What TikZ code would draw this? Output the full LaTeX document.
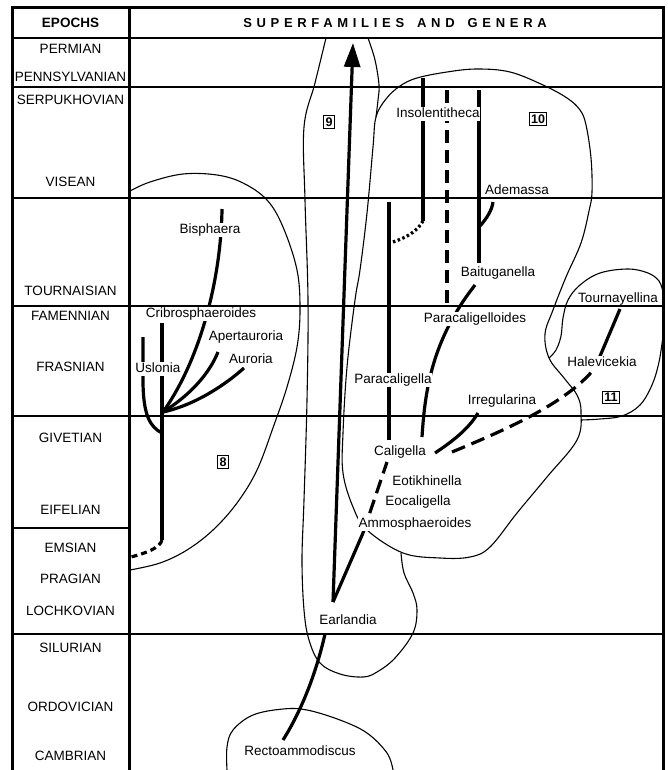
\documentclass[tikz,border=0pt]{standalone}
\usepackage{fontspec}
\setmainfont{Liberation Sans}
\usetikzlibrary{arrows.meta}
\newcommand{\gfont}{\fontsize{13.5}{15}\selectfont}
\newcommand{\efont}{\fontsize{13.5}{15}\selectfont}

\begin{document}
\begin{tikzpicture}[>=Stealth,x=1pt,y=-1pt,
  rule/.style={line width=1.3pt},
  heavy/.style={line width=3pt},
  outline/.style={line width=1.1pt,line join=round},
  branch/.style={line width=3.2pt},
  dsh/.style={branch,dash pattern=on 14pt off 7pt},
  epoch/.style={font=\efont,inner sep=0pt},
  genus/.style={font=\gfont,fill=white,inner sep=0.6pt,text height=9.7pt,text depth=2.8pt},
  numbox/.style={draw,line width=0.8pt,font=\bfseries\fontsize{12.5}{12.5}\selectfont,inner sep=1.8pt}]
\useasboundingbox (0,0) rectangle (667,770);

% outlines of the groups
\draw[outline] plot[smooth,tension=0.6] coordinates {(130,191) (150,182) (183,174) (217,175) (243,183) (267,200) (283,227) (297,270) (300,310) (297,347) (287,387) (274,425) (257,470) (237,503) (213,530) (187,550) (160,563) (130,570)};
\draw[outline] plot[smooth,tension=0.6] coordinates {(326,38) (315,83) (304,127) (305,200) (308,300) (307,400) (304,500) (302,560) (304,610) (309,640) (320,663) (340,674) (363,677) (377,672) (395,658) (413,633) (417,610) (413,593) (404,573) (401,553)};
\draw[outline] plot[smooth,tension=0.6] coordinates {(368,38) (375,60) (379,85) (378,100) (376,117)};
\draw[outline] plot[smooth cycle,tension=0.6] coordinates {(376,117) (386,99) (400,86) (417,78) (447,72) (477,69) (510,72) (543,85) (567,98) (580,110) (586,125) (591,158) (592,192) (589,211) (581,243) (566,277) (553,310) (545,334) (549,358) (564,378) (577,395) (581,412) (577,440) (547,477) (517,513) (490,547) (470,557) (440,558) (403,553) (367,530) (353,507) (343,473) (343,433) (347,367) (355,300) (360,270) (367,213) (373,147)};
\draw[outline] plot[smooth,tension=0.6] coordinates {(549,358) (556,350) (561,336) (563,318) (568,300) (580,285) (600,273) (628,269) (648,273) (659,281) (663,292)};
\draw[outline] plot[smooth,tension=0.6] coordinates {(663,336) (659,362) (652,385) (640,405) (622,416) (600,419) (581,420)};
\draw[outline] plot[smooth,tension=0.6] coordinates {(227,770) (227,747) (233,730) (253,715) (283,709) (307,710) (340,720) (367,733) (387,753) (393,770)};

% time lines
\draw[rule] (12,38) -- (663,38);
\foreach \y in {87,198,306,416,634}
  \draw[rule] (12,\y) -- (663,\y);
\draw[rule] (12,528) -- (129,528);

% end points of the branches
\coordinate (j8) at (163,412);
\coordinate (cribTop) at (162,323);
\coordinate (cribBot) at (162,540);
\coordinate (cribEnd) at (131,557);
\coordinate (uslTop) at (143,337);
\coordinate (uslBend) at (143,380);
\coordinate (uslJoin) at (162,433);
\coordinate (bisTop) at (222,209);
\coordinate (aptEnd) at (218,352);
\coordinate (aurEnd) at (244,368);
\coordinate (earlTop) at (333,602);
\coordinate (tip) at (353,43);
\coordinate (ammBot) at (363,533);
\coordinate (calBot) at (387,462);
\coordinate (earlBot) at (325,634);
\coordinate (rectTop) at (283,740);
\coordinate (pcalTop) at (389,202);
\coordinate (pcalBot) at (389,440);
\coordinate (calN) at (422,437);
\coordinate (pclgTop) at (475,285);
\coordinate (calE) at (435,453);
\coordinate (irrEnd) at (478,413);
\coordinate (calR) at (452,452);
\coordinate (halS) at (595,368);
\coordinate (tourS) at (620,309);
\coordinate (insTop) at (423,78);
\coordinate (insBot) at (423,221);
\coordinate (insEnd) at (393,242);
\coordinate (dTop) at (447,90);
\coordinate (dBot) at (447,308);
\coordinate (baiTop) at (479,90);
\coordinate (baiBot) at (479,263);
\coordinate (ademJ) at (480,226);
\coordinate (ademEnd) at (493,202);

% branches
\draw[branch] (cribTop) -- (cribBot);
\draw[branch,dash pattern=on 6pt off 4pt] (cribBot) .. controls (160,548) and (146,553) .. (cribEnd);
\draw[branch] (uslTop) -- (uslBend) .. controls (143,415) and (150,427) .. (uslJoin);
\draw[branch] (j8) .. controls (200,360) and (221,280) .. (bisTop);
\draw[branch] (j8) .. controls (192,394) and (210,372) .. (aptEnd);
\draw[branch] (j8) .. controls (195,405) and (225,385) .. (aurEnd);
\draw[branch,-{Triangle[length=24pt,width=16pt]}] (earlTop) -- (tip);
\draw[branch] (earlTop) -- (ammBot);
\draw[dsh] (ammBot) -- (calBot);
\draw[branch] (earlBot) .. controls (318,665) and (305,705) .. (rectTop);
\draw[branch] (pcalTop) -- (pcalBot);
\draw[branch] (calN) .. controls (425,390) and (432,340) .. (pclgTop);
\draw[branch] (calE) .. controls (450,443) and (468,430) .. (irrEnd);
\draw[dsh] (calR) .. controls (500,432) and (565,405) .. (halS);
\draw[branch] (halS) -- (tourS);
\draw[branch] (insTop) -- (insBot);
\draw[branch,dash pattern=on 2.5pt off 2.5pt] (insBot) .. controls (417,232) and (405,238) .. (insEnd);
\draw[dsh,dash pattern=on 13pt off 7pt] (dTop) -- (dBot);
\draw[branch] (baiTop) -- (baiBot);
\draw[branch] (ademJ) .. controls (487,218) and (492,210) .. (ademEnd);

% genera
\foreach \n/\x/\y/\t in {bisph/210/230/Bisphaera, cribro/201/314/Cribrosphaeroides,
    apert/246/337/Apertauroria, auror/251/360/Auroria, uslon/158/369/Uslonia,
    insol/438/114/Insolentitheca, baitu/498/273/Baituganella,
    pclgd/475/319/Paracaligelloides, pcalg/393/380/Paracaligella,
    irreg/502/401/Irregularina, calig/400/452/Caligella, eotik/427/482/Eotikhinella,
    eocal/418/502/Eocaligella, ammos/415/524/Ammosphaeroides, earl/348/621/Earlandia,
    recto/300/752/Rectoammodiscus, halev/602/363/Halevicekia}
  \node[genus] (\n) at (\x,\y) {\t};
\node[genus,fill=none] (adem) at (517,191) {Ademassa};
\node[genus,fill=none] (tourn) at (618,299) {Tournayellina};

\node[numbox] (n8) at (223,462) {8};
\node[numbox] (n9) at (329,122) {9};
\node[numbox] (n10) at (538,119) {10};
\node[numbox] (n11) at (611,397) {11};

% epochs
\foreach \y/\t [count=\i] in {49/PERMIAN,77/PENNSYLVANIAN,100/SERPUKHOVIAN,182/VISEAN,
    291/TOURNAISIAN,316/FAMENNIAN,367/FRASNIAN,438/GIVETIAN,510/EIFELIAN,548/EMSIAN,
    579/PRAGIAN,611/LOCHKOVIAN,648/SILURIAN,707/ORDOVICIAN,756/CAMBRIAN}
  \node[epoch] (ep\i) at (70.5,\y) {\t};

\node[font=\bfseries\fontsize{13.5}{15}\selectfont] (hdEp) at (70.5,23) {EPOCHS};
\node[font=\bfseries\fontsize{13}{14}\selectfont\addfontfeature{LetterSpace=36}] (hdSg) at (395,23)
  {SUPERFAMILIES\hspace{13pt}AND\hspace{13pt}GENERA};

% frame
\draw[heavy] (12,770) -- (12,8) -- (663,8) -- (663,770);
\draw[heavy] (129,8) -- (129,770);
\end{tikzpicture}
\end{document}
